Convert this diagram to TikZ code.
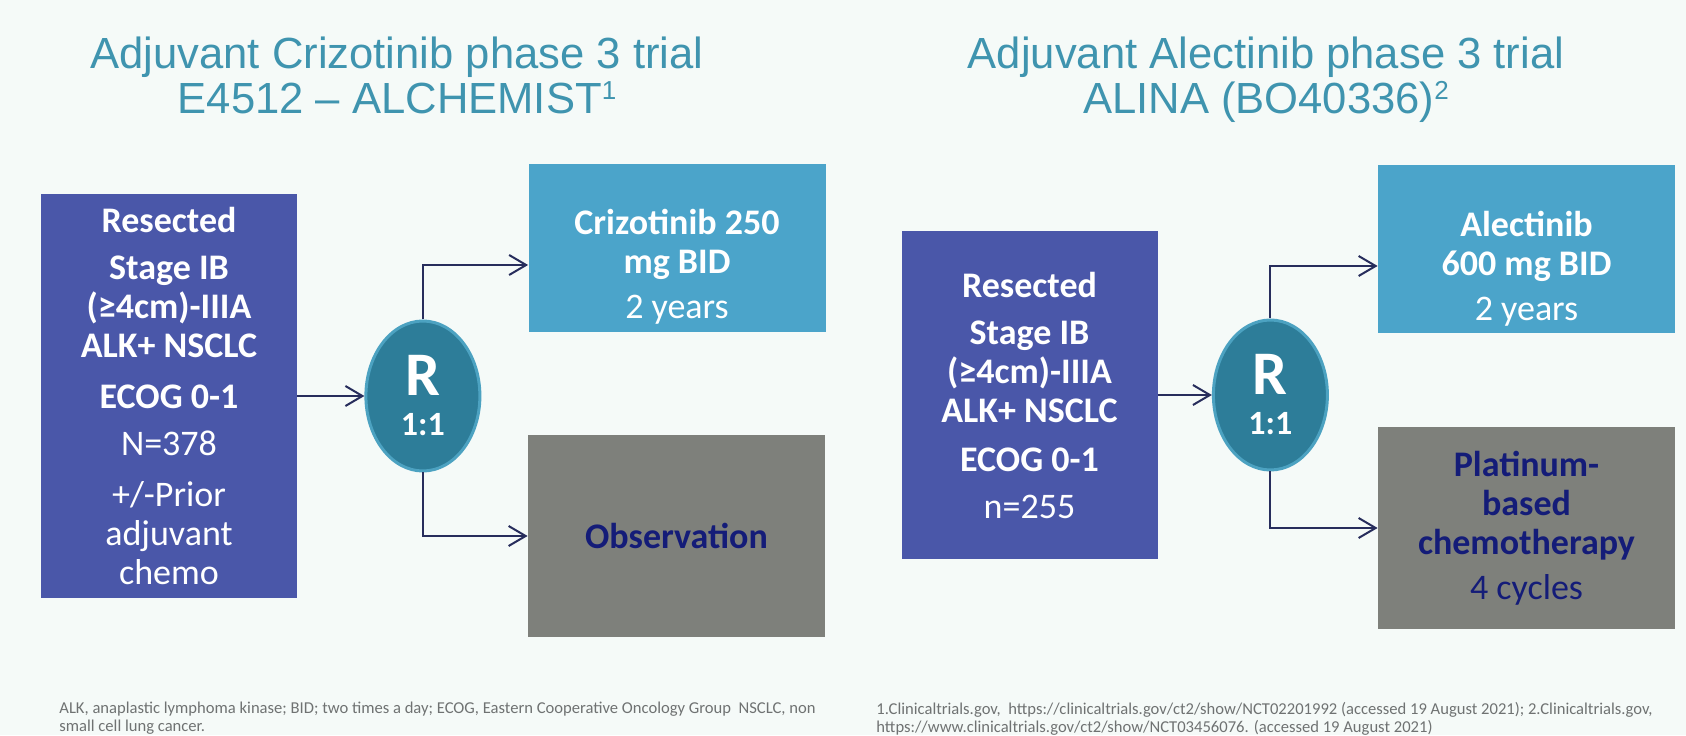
\documentclass[tikz,border=0pt]{standalone}
\usepackage{fontspec}
\setmainfont{Carlito}
\newfontfamily\titlefont{Liberation Sans}
\usetikzlibrary{shapes,arrows.meta,positioning}
\definecolor{pagebg}{HTML}{F5FAF8}
\definecolor{titleblue}{HTML}{3F94AF}
\definecolor{inclbox}{HTML}{4A57A9}
\definecolor{armbox}{HTML}{4BA4CA}
\definecolor{ctrlbox}{HTML}{7E807B}
\definecolor{randfill}{HTML}{2D7D99}
\definecolor{randedge}{HTML}{4CA2C1}
\definecolor{navytext}{HTML}{141C78}
\definecolor{arrowcol}{HTML}{272D5C}
\definecolor{notegrey}{HTML}{6F7272}
\newcommand\boxfont{\fontsize{18}{19.5}\selectfont}
\newcommand\refmark[1]{{\fontsize{13}{13}\selectfont\raisebox{7pt}{#1}}}

\begin{document}
\begin{tikzpicture}[x=0.5pt,y=-0.5pt,% one unit = one pixel of the slide
		every node/.style={
			align=center,	% so that "\\" breaks the lines
			inner sep=0pt
		},
		title/.style={font=\titlefont\fontsize{21.8}{22.5}\selectfont,text=titleblue},
		inclusion/.style={rectangle,fill=inclbox,text=white,minimum width=128pt,font=\boxfont\bfseries},
		randomise/.style={ellipse,fill=randfill,draw=randedge,line width=1.5pt,minimum width=57pt,minimum height=75pt,text=white,font=\fontsize{17}{20}\selectfont\bfseries},
		treatment/.style={rectangle,fill=armbox,minimum width=148.5pt,minimum height=84pt},
		control/.style={rectangle,fill=ctrlbox,minimum width=148.5pt,minimum height=101pt,text=navytext,font=\boxfont\bfseries},
		armtext/.style={text=white,font=\boxfont\bfseries},
		note/.style={align=left,text=notegrey,font=\fontsize{8.3}{9}\selectfont},
		flow/.style={draw=arrowcol,line width=1pt,-{Straight Barb[length=8.5pt,width=10pt]}}
	]
	\fill[pagebg] (0,0) rectangle (1686,735);

	% titles
	\node[title,anchor=north](H1) at (397,37) {Adjuvant Crizotinib phase 3 trial\\E4512 – ALCHEMIST\refmark{1}};
	\node[title,anchor=north](H2) at (1266,37) {Adjuvant Alectinib phase 3 trial\\ALINA (BO40336)\refmark{2}};

	% crizotinib trial
	\node[inclusion,minimum height=202pt](B1) at (169,396) {Resected\\[4pt]Stage IB\\(≥4cm)-IIIA\\ALK+ NSCLC\\[6pt]ECOG 0-1\\[4pt]\mdseries N=378\\[6pt]\mdseries +/-Prior\\\mdseries adjuvant\\\mdseries chemo};
	\node[randomise](E1)[right=33.5pt of B1] {\fontsize{31}{31}\selectfont R\\1:1};
	\node[treatment](T1) at (677,248.5) {};
	\node[armtext](T1text) at ([yshift=-9pt]T1.center) {Crizotinib 250\\mg BID\\[3pt]\mdseries 2 years};
	\node[control](G1) at (676.5,536) {Observation};

	% alectinib trial
	\node[inclusion,minimum height=164pt](B2) at (1029.5,395) {Resected\\[4pt]Stage IB\\(≥4cm)-IIIA\\ALK+ NSCLC\\[5pt]ECOG 0-1\\[4pt]\mdseries n=255};
	\node[randomise](E2)[right=27pt of B2] {\fontsize{31}{31}\selectfont R\\1:1};
	\node[treatment](T2) at (1526.5,249) {};
	\node[armtext](T2text) at ([yshift=-10pt]T2.center) {Alectinib\\600 mg BID\\[3pt]\mdseries 2 years};
	\node[control](G2) at (1526.5,528) {Platinum-\\based\\chemotherapy\\[3pt]\mdseries 4 cycles};

	\path[flow]
	(B1) edge (E1)
	(B2) edge (E2)
	;
	\draw[flow] (E1.north) |- ([yshift=-8.25pt]T1.west);
	\draw[flow] (E1.south) |- (G1.west);
	\draw[flow] (E2.north) |- ([yshift=-8.5pt]T2.west);
	\draw[flow] (E2.south) |- (G2.west);

	% footnotes
	\node[note,anchor=north west](N1) at (59,702) {ALK, anaplastic lymphoma kinase; BID; two times a day; ECOG, Eastern Cooperative Oncology Group\ \ NSCLC, non\\small cell lung cancer.};
	\node[note,anchor=north west](N2) at (876,702) {1.Clinicaltrials.gov,\ \ https://clinicaltrials.gov/ct2/show/NCT02201992 (accessed 19 August 2021); 2.Clinicaltrials.gov,\\https://www.clinicaltrials.gov/ct2/show/NCT03456076. (accessed 19 August 2021)};
\end{tikzpicture}
\end{document}
